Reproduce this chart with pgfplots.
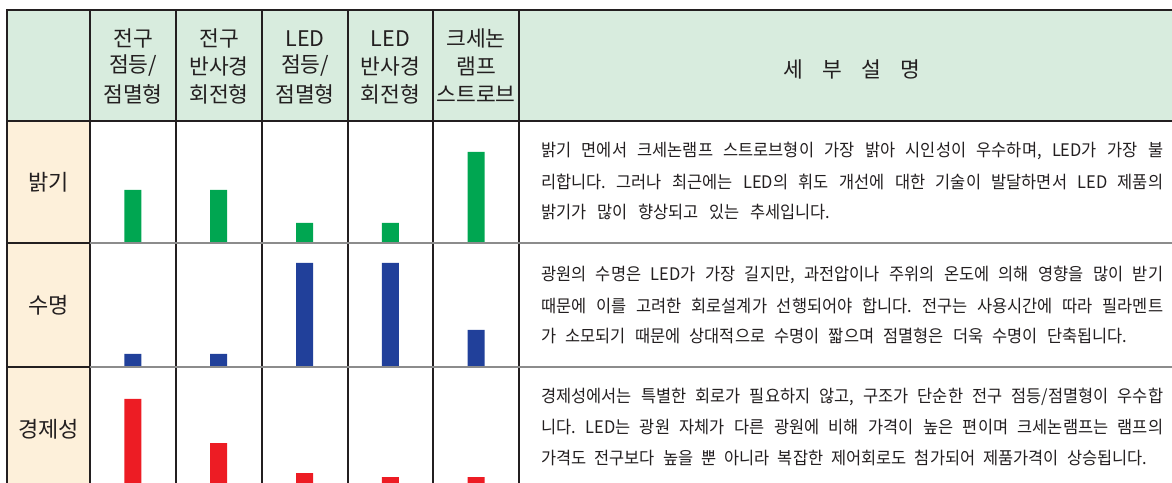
\documentclass[border=0pt]{standalone}
\usepackage{pgfplots}
\pgfplotsset{compat=1.18}
\usepackage{fontspec}
\setmainfont{Noto Sans CJK KR}
\newfontfamily\dsfont[FakeStretch=0.95]{Noto Sans CJK KR}
\frenchspacing
\definecolor{hdr}{HTML}{D8ECDE}
\definecolor{lab}{HTML}{FDF0DA}
\definecolor{gbar}{HTML}{00A651}
\definecolor{bbar}{HTML}{21409A}
\definecolor{rbar}{HTML}{ED1C24}
\definecolor{txt}{HTML}{231F20}
\definecolor{sep}{HTML}{8C8C8C}
\pgfplotsset{rowbar/.style={ybar, bar width=17pt, scale only axis, width=429pt,
  xmin=0.5, xmax=5.5, ymin=0, hide axis, anchor=south west, clip=false}}
\newcommand{\hd}{\fontsize{21.5}{24}\selectfont}
\newcommand{\lb}{\fontsize{22}{26}\selectfont}
\newcommand{\ds}{\dsfont\fontsize{17.3}{20}\selectfont\spaceskip=0.3em plus 0.6em minus 0.12em\relax}
\begin{document}
\begin{tikzpicture}[x=1pt,y=1pt]
\useasboundingbox (0,0) rectangle (1172,482);
\clip (0,0) rectangle (1172,482);
% backgrounds
\fill[hdr] (7,472) rectangle (1172,361);
\fill[lab] (7,361) rectangle (90,-20);
% bars, one axis per row
\begin{axis}[rowbar, at={(90pt,239pt)}, height=122pt, ymax=122]
\addplot[fill=gbar, draw=none] coordinates {(1,53) (2,53) (3,20) (4,20) (5,91)};
\end{axis}
\begin{axis}[rowbar, at={(90pt,115pt)}, height=124pt, ymax=124]
\addplot[fill=bbar, draw=none] coordinates {(1,13) (2,13) (3,104) (4,104) (5,37)};
\end{axis}
\begin{axis}[rowbar, at={(90pt,-9pt)}, height=124pt, ymax=124]
\addplot[fill=rbar, draw=none] coordinates {(1,92) (2,48) (3,18) (4,14) (5,14)};
\end{axis}
% grid lines
\foreach \xx in {90,176,262,348,433,519} \draw[txt, line width=1.1pt] (\xx,472) -- (\xx,-20);
\draw[txt, line width=1.3pt] (7,361) -- (1172,361);
\draw[sep, line width=2pt] (90,239) -- (1172,239);
\draw[sep, line width=2pt] (90,115) -- (1172,115);
\draw[txt, line width=1.1pt] (7,239) -- (90,239);
\draw[txt, line width=1.1pt] (7,115) -- (90,115);
\draw[txt, line width=2pt] (6,472) -- (1172,472);
\draw[txt, line width=2.2pt] (7,473) -- (7,-20);
% header text
\begin{scope}[every node/.style={inner sep=0pt, text=txt, font=\hd}]
\node at (133,443.5) {전구}; \node at (133,416) {점등/}; \node at (133,388) {점멸형};
\node at (219,443.5) {전구}; \node at (219,416) {반사경}; \node at (219,388) {회전형};
\node at (305,443.5) {LED}; \node at (305,416) {점등/}; \node at (305,388) {점멸형};
\node at (390.5,443.5) {LED}; \node at (390.5,416) {반사경}; \node at (390.5,388) {회전형};
\node at (476,443.5) {크세논}; \node at (476,416) {램프}; \node at (476,388) {스트로브};
\node at (852,413) {세\hspace{19pt}부\hspace{19pt}설\hspace{19pt}명};
\end{scope}
% row labels
\begin{scope}[every node/.style={inner sep=0pt, text=txt, font=\lb}]
\node at (48.5,300) {밝기};
\node at (48.5,177) {수명};
\node at (48.5,53) {경제성};
\end{scope}
% descriptions
\begin{scope}[every node/.style={inner sep=0pt, text=txt, font=\ds, anchor=west}]
\node at (541,331) {\makebox[622pt][s]{밝기 면에서 크세논램프 스트로브형이 가장 밝아 시인성이 우수하며, LED가 가장 불}};
\node at (541,300.5) {\makebox[622pt][s]{리합니다. 그러나 최근에는 LED의 휘도 개선에 대한 기술이 발달하면서 LED 제품의}};
\node at (541,270) {\makebox[289pt][s]{밝기가 많이 향상되고 있는 추세입니다.}};
\node at (541,207) {\makebox[622pt][s]{광원의 수명은 LED가 가장 길지만, 과전압이나 주위의 온도에 의해 영향을 많이 받기}};
\node at (541,176.5) {\makebox[622pt][s]{때문에 이를 고려한 회로설계가 선행되어야 합니다. 전구는 사용시간에 따라 필라멘트}};
\node at (541,146) {\makebox[586pt][s]{가 소모되기 때문에 상대적으로 수명이 짧으며 점멸형은 더욱 수명이 단축됩니다.}};
\node at (541,85) {\makebox[622pt][s]{경제성에서는 특별한 회로가 필요하지 않고, 구조가 단순한 전구 점등/점멸형이 우수합}};
\node at (541,54.5) {\makebox[622pt][s]{니다. LED는 광원 자체가 다른 광원에 비해 가격이 높은 편이며 크세논램프는 램프의}};
\node at (541,24) {\makebox[606pt][s]{가격도 전구보다 높을 뿐 아니라 복잡한 제어회로도 첨가되어 제품가격이 상승됩니다.}};
\end{scope}
\end{tikzpicture}
\end{document}
